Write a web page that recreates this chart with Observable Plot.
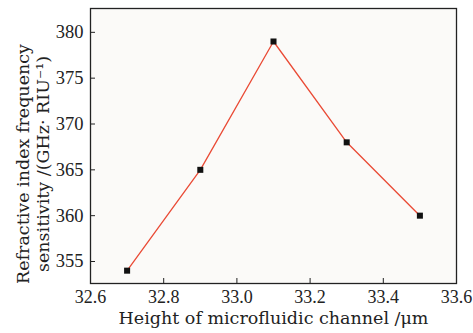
<!DOCTYPE html>
<html><head><meta charset="utf-8">
<script src="https://cdn.jsdelivr.net/npm/d3@7"></script>
<script src="https://cdn.jsdelivr.net/npm/@observablehq/plot@0.6"></script>
<style>body{margin:0;background:#fff}</style>
</head><body><div id="chart"></div>
<script>
const heights = [32.7, 32.9, 33.1, 33.3, 33.5];
const sensitivity = [354, 365, 379, 368, 360];
const xTicks = [32.6, 32.8, 33.0, 33.2, 33.4, 33.6];
const yTicks = [355, 360, 365, 370, 375, 380];
const xLabel = "Height of microfluidic channel /μm";
const yLabel = "Refractive index frequency\nsensitivity /(GHz· RIU⁻¹)";

const data = heights.map((h, i) => ({h, s: sensitivity[i]}));
const font = "Liberation Serif";
const titleFont = "DejaVu Serif";

const chart = Plot.plot({
  width: 473, height: 333,
  marginLeft: 90, marginRight: 17, marginTop: 8, marginBottom: 50,
  style: {fontFamily: font, fontSize: "18px", color: "#222", background: "#fff"},
  x: {domain: [32.6, 33.6]},
  y: {domain: [352.6, 382.6]},
  marks: [
    Plot.frame({fill: "#fbfaf8", stroke: null}),
    Plot.axisX({ticks: xTicks, tickSize: -5, tickPadding: 12, tickFormat: d3.format(".1f"), label: null, fontSize: 18}),
    Plot.axisY({ticks: yTicks, tickSize: -5, tickPadding: 12, label: null, fontSize: 18.5}),
    Plot.line(data, {x: "h", y: "s", stroke: "#ea4a35", strokeWidth: 1.3}),
    Plot.dot(data, {x: "h", y: "s", symbol: "square", r: 3.4, fill: "#111", stroke: null}),
    Plot.frame({stroke: "#222", strokeWidth: 1.3}),
    Plot.text([xLabel], {text: d => d, frameAnchor: "bottom", dy: 40, fontSize: 17.5, fontFamily: titleFont, fill: "#222"}),
    Plot.text([yLabel], {text: d => d, frameAnchor: "left", textAnchor: "middle", dx: -58, dy: 18, rotate: -90, fontSize: 17.5, fontFamily: titleFont, lineHeight: 1.15, fill: "#222"})
  ]
});
document.getElementById("chart").append(chart);
</script></body></html>
